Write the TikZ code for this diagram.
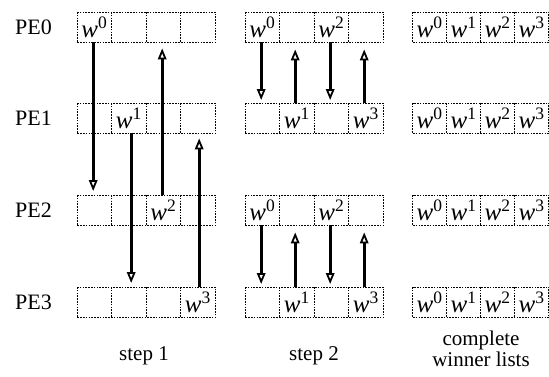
\documentclass[tikz,border=0pt]{standalone}
\usepackage{fontspec}
\setmainfont{Liberation Serif}
\usetikzlibrary{arrows.meta}
\newcommand{\wv}[1]{{\itshape w}\textsuperscript{#1}}
\begin{document}
\begin{tikzpicture}[x=1pt,y=-1pt,
  cell/.style={minimum width=34.5pt,minimum height=30pt,inner sep=0pt,anchor=north west,font=\fontsize{25}{26}\selectfont},
  frame/.style={dash pattern=on 1.6pt off 1.2pt,line width=1pt},
  pelabel/.style={anchor=west,inner sep=0pt,font=\fontsize{22}{24}\selectfont},
  caption/.style={inner sep=0pt,align=center,font=\fontsize{21}{20}\selectfont},
  arr/.style={line width=3pt,-{Triangle[open,length=11pt,width=8.5pt,line width=1.8pt]}}]
\useasboundingbox (0,0) rectangle (549,376);
\foreach \r/\y in {0/12,1/103,2/195,3/287}{
  \node[pelabel] (pe\r) at (15,\y+15) {PE\r};
}
\newcommand{\cellrow}[8]{%
  \node[cell,minimum width=#5] (#1r#2c0) at (#3,#4) {#6};
  \node[cell,minimum width=#5] (#1r#2c1) at (#3+#5,#4) {#7};
  \node[cell,minimum width=#5] (#1r#2c2) at (#3+2*#5,#4) {#8};
}
\newcommand{\rowframe}[2]{%
  \draw[frame] (#1r#2c0.north west) rectangle (#1r#2c3.south east);
  \draw[frame] (#1r#2c0.north east) -- (#1r#2c0.south east);
  \draw[frame] (#1r#2c1.north east) -- (#1r#2c1.south east);
  \draw[frame] (#1r#2c2.north east) -- (#1r#2c2.south east);
}
% step 1
\cellrow{a}{0}{77}{12}{34.5}{\wv{0}}{}{}
\node[cell,minimum width=34.5] (ar0c3) at (77+3*34.5,12) {};
\cellrow{a}{1}{77}{103}{34.5}{}{\wv{1}}{}
\node[cell,minimum width=34.5] (ar1c3) at (77+3*34.5,103) {};
\cellrow{a}{2}{77}{195}{34.5}{}{}{\wv{2}}
\node[cell,minimum width=34.5] (ar2c3) at (77+3*34.5,195) {};
\cellrow{a}{3}{77}{287}{34.5}{}{}{}
\node[cell,minimum width=34.5] (ar3c3) at (77+3*34.5,287) {\wv{3}};
% step 2
\cellrow{b}{0}{245}{12}{34.5}{\wv{0}}{}{\wv{2}}
\node[cell,minimum width=34.5] (br0c3) at (245+3*34.5,12) {};
\cellrow{b}{1}{245}{103}{34.5}{}{\wv{1}}{}
\node[cell,minimum width=34.5] (br1c3) at (245+3*34.5,103) {\wv{3}};
\cellrow{b}{2}{245}{195}{34.5}{\wv{0}}{}{\wv{2}}
\node[cell,minimum width=34.5] (br2c3) at (245+3*34.5,195) {};
\cellrow{b}{3}{245}{287}{34.5}{}{\wv{1}}{}
\node[cell,minimum width=34.5] (br3c3) at (245+3*34.5,287) {\wv{3}};
% complete
\foreach \r/\y in {0/12,1/103,2/195,3/287}{
  \cellrow{c}{\r}{412.5}{\y}{34}{\wv{0}}{\wv{1}}{\wv{2}}
  \node[cell,minimum width=34] (cr\r c3) at (412.5+3*34,\y) {\wv{3}};
}
\foreach \g in {a,b,c}{\foreach \r in {0,1,2,3}{\rowframe{\g}{\r}}}
% arrows step 1
\draw[arr,shorten >=4pt] ([xshift=-1.25pt]ar0c0.south) -- ([xshift=-1.25pt]ar2c0.north);
\draw[arr,shorten >=4pt] ([xshift=2.25pt]ar1c1.south) -- ([xshift=2.25pt]ar3c1.north);
\draw[arr,shorten >=6pt] ([xshift=-1.25pt]ar2c2.north) -- ([xshift=-1.25pt]ar0c2.south);
\draw[arr,shorten >=5pt] ([xshift=1.25pt]ar3c3.north) -- ([xshift=1.25pt]ar1c3.south);
% arrows step 2
\foreach \t/\b in {0/1,2/3}{
  \draw[arr,shorten >=3pt] ([xshift=-1.25pt]br\t c0.south) -- ([xshift=-1.25pt]br\b c0.north);
  \draw[arr,shorten >=7pt] ([xshift=-1.75pt]br\b c1.north) -- ([xshift=-1.75pt]br\t c1.south);
  \draw[arr,shorten >=3pt] ([xshift=-1.25pt]br\t c2.south) -- ([xshift=-1.25pt]br\b c2.north);
  \draw[arr,shorten >=7pt] ([xshift=-1.75pt]br\b c3.north) -- ([xshift=-1.75pt]br\t c3.south);
}
% captions
\node[caption,anchor=base] (cap1) at (144,360) {step 1};
\node[caption,anchor=base] (cap2) at (314,360) {step 2};
\node[caption,anchor=base] (cap3a) at (481,345) {complete};
\node[caption,anchor=base] (cap3b) at (481,366) {winner lists};
\end{tikzpicture}
\end{document}
